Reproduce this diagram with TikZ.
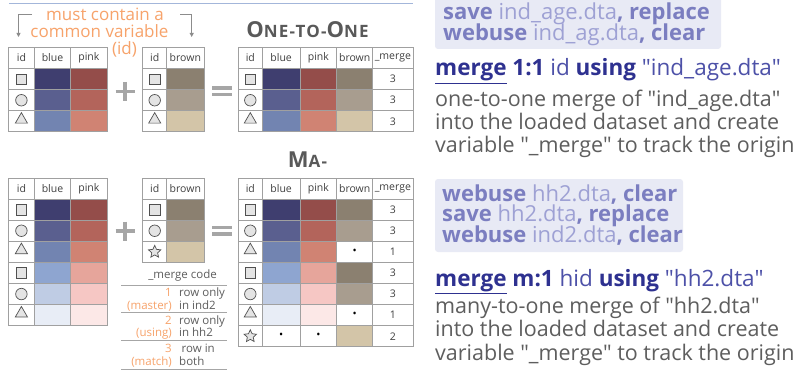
\documentclass[tikz,border=0pt]{standalone}
\usepackage{fontspec}
\setmainfont{Open Sans}
\newfontfamily\headfont[LetterSpace=7]{Open Sans}
\usetikzlibrary{shapes.geometric,arrows.meta}

\definecolor{rulecol}{HTML}{A3B6DA}
\definecolor{notecol}{HTML}{F7A36B}
\definecolor{arrowcol}{HTML}{8C8C8C}
\definecolor{gridcol}{HTML}{A0A0A0}
\definecolor{tabtext}{HTML}{404040}
\definecolor{symfill}{HTML}{E4E4E4}
\definecolor{symline}{HTML}{505050}
\definecolor{opcol}{HTML}{A6A6A6}
\definecolor{headcol}{HTML}{595959}
\definecolor{blueA}{HTML}{3F3E6F}
\definecolor{blueB}{HTML}{5A5F8F}
\definecolor{blueC}{HTML}{7284B1}
\definecolor{blueD}{HTML}{8EA5D0}
\definecolor{blueE}{HTML}{BFCCE4}
\definecolor{blueF}{HTML}{E8EDF6}
\definecolor{pinkA}{HTML}{944D4A}
\definecolor{pinkB}{HTML}{B3645B}
\definecolor{pinkC}{HTML}{D08373}
\definecolor{pinkD}{HTML}{E6A59B}
\definecolor{pinkE}{HTML}{F6C7C4}
\definecolor{pinkF}{HTML}{FCE8E7}
\definecolor{brownA}{HTML}{8B8070}
\definecolor{brownB}{HTML}{A89D8F}
\definecolor{brownC}{HTML}{D3C5A8}
\definecolor{codebg}{HTML}{E8EAF5}
\definecolor{codebold}{HTML}{7B7EC0}
\definecolor{codelight}{HTML}{9EA1D4}
\definecolor{cmddark}{HTML}{2E3190}
\definecolor{cmdlight}{HTML}{4D51A8}
\definecolor{desccol}{HTML}{5E5E5E}
\definecolor{legcol}{HTML}{A6A6A6}

\newcommand\capbig{\fontsize{22}{22}\selectfont}
\newcommand\capsmall{\fontsize{17}{17}\selectfont}
\newcommand\cmdb[1]{{\color{cmddark}\bfseries #1}}
\newcommand\dq{\textquotedbl}

\tikzset{
  cell/.style={draw=gridcol, line width=0.8pt, anchor=north west, minimum height=21.1pt,
    inner sep=0pt, outer sep=0pt, text=tabtext, font=\fontsize{10.5}{12}\selectfont},
  idsym/.style={draw=symline, fill=symfill, line width=0.7pt, inner sep=0pt},
  idsq/.style={idsym, rectangle, minimum size=10.5pt},
  idci/.style={idsym, circle, minimum size=11.5pt},
  idtr/.style={idsym, regular polygon, regular polygon sides=3, minimum size=14pt, yshift=1.7pt},
  idst/.style={idsym, star, star points=5, star point ratio=2.1, minimum size=13pt},
  missing/.style={inner sep=0pt, text=black, font=\fontsize{11}{11}\selectfont},
  note/.style={anchor=base, inner sep=0pt, text=notecol, font=\fontsize{17}{17}\selectfont},
  bracket/.style={draw=arrowcol, line width=0.8pt, -{Triangle[length=4pt,width=4pt]}},
  opsign/.style={draw=opcol, line width=3.4pt},
  headtitle/.style={anchor=base, inner sep=0pt, text=headcol, font=\headfont\bfseries},
  code/.style={anchor=base west, inner sep=0pt, text=codebold, font=\fontsize{22}{22}\selectfont},
  cmd/.style={anchor=base west, inner sep=0pt, text=cmdlight, font=\fontsize{22.5}{22.5}\selectfont},
  desc/.style={anchor=base west, inner sep=0pt, text=desccol, font=\fontsize{21.5}{21.5}\selectfont},
  legrule/.style={draw=legcol, line width=0.9pt},
  legnum/.style={anchor=base east, inner sep=0pt, text=notecol, font=\fontsize{11.5}{12}\selectfont},
  legtxt/.style={anchor=base west, inner sep=0pt, text=desccol, font=\fontsize{11.5}{12}\selectfont}
}

\begin{document}
\begin{tikzpicture}[x=1pt,y=-1pt]
    \useasboundingbox (0,0) rectangle (799,374);
    \fill[white] (0,0) rectangle (799,374);
    \clip (0,0) rectangle (799,374);

    \draw[rulecol, line width=1pt] (9,4) -- (413,4);

    % one-to-one
    \node[note] (must) at (105,21) {must contain a};
    \node[note] (common) at (99.5,38) {common variable};
    \node[note] (idnote) at (124.5,55) {(id)};
    \coordinate (lbrack) at (32,14);
    \coordinate (lend) at (18.5,37);
    \coordinate (rbrack) at (180,14);
    \coordinate (rend) at (191.7,37);
    \draw[bracket] (lbrack) -| (lend);
    \draw[bracket] (rbrack) -| (rend);

    \node[headtitle] (title11) at (307.5,37.3) {\capbig O\capsmall NE-TO-\capbig O\capsmall NE};

    \foreach \c/\x/\w/\t in {id/8.5/25.8/id, blue/34.3/36.4/blue, pink/70.7/36.3/pink}
        \node[cell, minimum width=\w pt] (ind-\c-0) at (\x,47.5) {\t};
    \foreach \r/\sh/\cb/\cp in {1/idsq/blueA/pinkA, 2/idci/blueB/pinkB, 3/idtr/blueC/pinkC} {
        \node[cell, minimum width=25.8pt] (ind-id-\r) at (8.5,{47.5+21.1*\r}) {};
        \node[\sh] (ind-sym-\r) at (ind-id-\r.center) {};
        \node[cell, minimum width=36.4pt, fill=\cb] (ind-blue-\r) at (34.3,{47.5+21.1*\r}) {};
        \node[cell, minimum width=36.3pt, fill=\cp] (ind-pink-\r) at (70.7,{47.5+21.1*\r}) {};
    }

    \foreach \c/\x/\w/\t in {id/142.7/24/id, brown/166.7/37.3/brown}
        \node[cell, minimum width=\w pt] (age-\c-0) at (\x,47.5) {\t};
    \foreach \r/\sh/\cw in {1/idsq/brownA, 2/idci/brownB, 3/idtr/brownC} {
        \node[cell, minimum width=24pt] (age-id-\r) at (142.7,{47.5+21.1*\r}) {};
        \node[\sh] (age-sym-\r) at (age-id-\r.center) {};
        \node[cell, minimum width=37.3pt, fill=\cw] (age-brown-\r) at (166.7,{47.5+21.1*\r}) {};
    }

    \foreach \c/\x/\w/\t in {id/238.3/24/id, blue/262.3/37.7/blue, pink/300/36.7/pink, brown/336.7/36/brown, merge/372.7/40.3/\_merge}
        \node[cell, minimum width=\w pt] (both-\c-0) at (\x,47.5) {\t};
    \foreach \r/\sh/\cb/\cp/\cw in {1/idsq/blueA/pinkA/brownA, 2/idci/blueB/pinkB/brownB, 3/idtr/blueC/pinkC/brownC} {
        \node[cell, minimum width=24pt] (both-id-\r) at (238.3,{47.5+21.1*\r}) {};
        \node[\sh] (both-sym-\r) at (both-id-\r.center) {};
        \node[cell, minimum width=37.7pt, fill=\cb] (both-blue-\r) at (262.3,{47.5+21.1*\r}) {};
        \node[cell, minimum width=36.7pt, fill=\cp] (both-pink-\r) at (300,{47.5+21.1*\r}) {};
        \node[cell, minimum width=36pt, fill=\cw] (both-brown-\r) at (336.7,{47.5+21.1*\r}) {};
        \node[cell, minimum width=40.3pt] (both-merge-\r) at (372.7,{47.5+21.1*\r}) {3};
    }

    \draw[opsign] (115.5,91.5) -- (134.5,91.5) (125,82) -- (125,101);
    \draw[opsign] (212,88) -- (232,88) (212,94.5) -- (232,94.5);

    % many-to-one
    \node[headtitle] (titlem1) at (307.5,167.3) {\capbig M\capsmall A-};

    \foreach \c/\x/\w/\t in {id/8.5/25.8/id, blue/34.3/36.4/blue, pink/70.7/36.3/pink}
        \node[cell, minimum width=\w pt] (ind2-\c-0) at (\x,178) {\t};
    \foreach \r/\sh/\cb/\cp in {1/idsq/blueA/pinkA, 2/idci/blueB/pinkB, 3/idtr/blueC/pinkC,
                                4/idsq/blueD/pinkD, 5/idci/blueE/pinkE, 6/idtr/blueF/pinkF} {
        \node[cell, minimum width=25.8pt] (ind2-id-\r) at (8.5,{178+21.1*\r}) {};
        \node[\sh] (ind2-sym-\r) at (ind2-id-\r.center) {};
        \node[cell, minimum width=36.4pt, fill=\cb] (ind2-blue-\r) at (34.3,{178+21.1*\r}) {};
        \node[cell, minimum width=36.3pt, fill=\cp] (ind2-pink-\r) at (70.7,{178+21.1*\r}) {};
    }

    \foreach \c/\x/\w/\t in {id/142.7/24/id, brown/166.7/37.3/brown}
        \node[cell, minimum width=\w pt] (hh2-\c-0) at (\x,178) {\t};
    \foreach \r/\sh/\cw in {1/idsq/brownA, 2/idci/brownB, 3/idst/brownC} {
        \node[cell, minimum width=24pt] (hh2-id-\r) at (142.7,{178+21.1*\r}) {};
        \node[\sh] (hh2-sym-\r) at (hh2-id-\r.center) {};
        \node[cell, minimum width=37.3pt, fill=\cw] (hh2-brown-\r) at (166.7,{178+21.1*\r}) {};
    }

    \foreach \c/\x/\w/\t in {id/238.3/24/id, blue/262.3/37.7/blue, pink/300/36.7/pink, brown/336.7/36/brown, merge/372.7/40.3/\_merge}
        \node[cell, minimum width=\w pt] (mrg-\c-0) at (\x,178) {\t};
    \foreach \r/\sh/\cb/\cp/\cw/\m in {1/idsq/blueA/pinkA/brownA/3, 2/idci/blueB/pinkB/brownB/3,
                                       3/idtr/blueC/pinkC/white/1, 4/idsq/blueD/pinkD/brownA/3,
                                       5/idci/blueE/pinkE/brownB/3, 6/idtr/blueF/pinkF/white/1,
                                       7/idst/white/white/brownC/2} {
        \node[cell, minimum width=24pt] (mrg-id-\r) at (238.3,{178+21.1*\r}) {};
        \node[\sh] (mrg-sym-\r) at (mrg-id-\r.center) {};
        \node[cell, minimum width=37.7pt, fill=\cb] (mrg-blue-\r) at (262.3,{178+21.1*\r}) {};
        \node[cell, minimum width=36.7pt, fill=\cp] (mrg-pink-\r) at (300,{178+21.1*\r}) {};
        \node[cell, minimum width=36pt, fill=\cw] (mrg-brown-\r) at (336.7,{178+21.1*\r}) {};
        \node[cell, minimum width=40.3pt] (mrg-merge-\r) at (372.7,{178+21.1*\r}) {\m};
    }
    \foreach \n in {brown-3, brown-6, blue-7, pink-7}
        \node[missing] (mrg-dot-\n) at (mrg-\n.center) {•};

    \draw[opsign] (115.5,231) -- (134.5,231) (125,221.5) -- (125,240.5);
    \draw[opsign] (212,227.5) -- (232,227.5) (212,234) -- (232,234);

    % _merge codes
    \node[legtxt, anchor=base east] (legtitle) at (217,278.3) {\_merge code};
    \draw[legrule] (121,285) -- (227,285);
    \draw[legrule] (121,312.7) -- (227,312.7);
    \draw[legrule] (121,340.7) -- (227,340.7);
    \draw[legrule] (121,369) -- (227,369);
    \node[legnum] (code1) at (172,296.3) {1};
    \node[legnum] (master) at (172,309.3) {(master)};
    \node[legtxt] (only1) at (179,296.3) {row only};
    \node[legtxt] (inind2) at (179,309.3) {in ind2};
    \node[legnum] (code2) at (172,324) {2};
    \node[legnum] (using) at (172,336.7) {(using)};
    \node[legtxt] (only2) at (179,324) {row only};
    \node[legtxt] (inhh2) at (179,336.7) {in hh2};
    \node[legnum] (code3) at (172,352.3) {3};
    \node[legnum] (match) at (172,365) {(match)};
    \node[legtxt] (rowin) at (181.5,352.3) {row in};
    \node[legtxt] (both) at (179,365) {both};

    % commands
    \fill[codebg, rounded corners=3pt] (435,-20) rectangle (721,49);
    \node[code] (save1) at (443,20) {\textbf{save} {\color{codelight}ind\_age.dta}\textbf{, replace}};
    \node[code] (webuse1) at (443,40.7) {\textbf{webuse} {\color{codelight}ind\_ag.dta}\textbf{, clear}};
    \node[cmd] (merge11) at (435,76) {\cmdb{\underline{merge} 1:1} id \cmdb{using} \dq ind\_age.dta\dq};
    \node[desc] (desc11a) at (435,106.5) {one-to-one merge of \dq ind\_age.dta\dq};
    \node[desc] (desc11b) at (435,129.5) {into the loaded dataset and create};
    \node[desc] (desc11c) at (435,152.5) {variable \dq\_merge\dq{} to track the origin};

    \fill[codebg, rounded corners=3pt] (435,179) rectangle (683,252);
    \node[code] (webuse2) at (442,201) {\textbf{webuse} {\color{codelight}hh2.dta}\textbf{, clear}};
    \node[code] (save2) at (442,221.7) {\textbf{save} {\color{codelight}hh2.dta}\textbf{, replace}};
    \node[code] (webuse3) at (442,242.7) {\textbf{webuse} {\color{codelight}ind2.dta}\textbf{, clear}};
    \node[cmd] (mergem1) at (435,286.7) {\cmdb{\underline{merge} m:1} hid \cmdb{using} \dq hh2.dta\dq};
    \node[desc] (descm1a) at (435,313) {many-to-one merge of \dq hh2.dta\dq};
    \node[desc] (descm1b) at (435,336.5) {into the loaded dataset and create};
    \node[desc] (descm1c) at (435,360) {variable \dq\_merge\dq{} to track the origin};
\end{tikzpicture}
\end{document}
